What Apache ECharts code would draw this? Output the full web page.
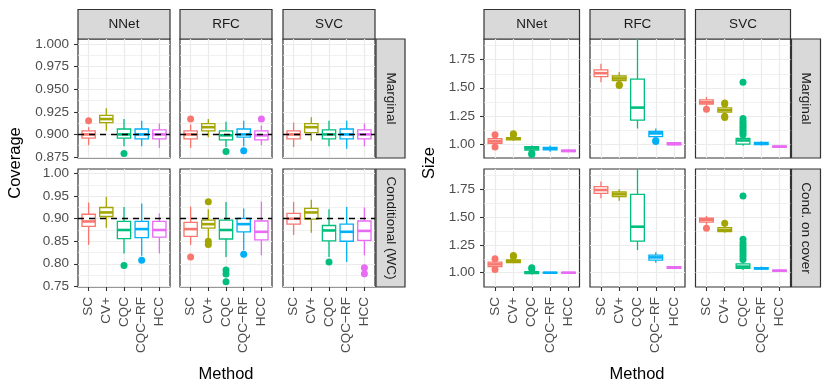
<!DOCTYPE html>
<html>
<head>
<meta charset="utf-8">
<script src="https://cdn.jsdelivr.net/npm/echarts@6/dist/echarts.min.js"></script>
<style>
html, body { margin: 0; padding: 0; background: #fff; }
#chart { width: 830px; height: 383px; }
</style>
</head>
<body>
<div id="chart"></div>
<script>
// categories and colours
var methods = ['SC', 'CV+', 'CQC', 'CQC\u2212RF', 'HCC'];
var models = ['NNet', 'RFC', 'SVC'];
var colors = ['#F8766D', '#A3A500', '#00BF7D', '#00B0F6', '#E76BF3'];
var xTicks = [1, 2, 3, 4, 5];

// tick labels
var covMargTicks = [0.875, 0.9, 0.925, 0.95, 0.975, 1.0];
var covMargMinor = [0.8875, 0.9125, 0.9375, 0.9625, 0.9875];
var covCondTicks = [0.75, 0.8, 0.85, 0.9, 0.95, 1.0];
var covCondMinor = [0.775, 0.825, 0.875, 0.925, 0.975];
var sizeTicks = [1.0, 1.25, 1.5, 1.75];
var sizeMinor = [1.125, 1.375, 1.625, 1.875];
var covTarget = 0.9;

// box stats per method: [lower whisker, q1, median, q3, upper whisker]
// outliers: [method no, value]
var covMargNNet = [[0.888, 0.896, 0.900, 0.904, 0.908], [0.904, 0.913, 0.917, 0.921, 0.929], [0.887, 0.896, 0.900, 0.906, 0.917], [0.887, 0.895, 0.900, 0.906, 0.915], [0.885, 0.895, 0.900, 0.905, 0.912]];
var covMargNNetOut = [[1, 0.915], [3, 0.879]];
var covMargRFC = [[0.885, 0.895, 0.900, 0.904, 0.911], [0.897, 0.904, 0.908, 0.912, 0.917], [0.886, 0.894, 0.899, 0.904, 0.914], [0.887, 0.897, 0.900, 0.906, 0.915], [0.888, 0.894, 0.899, 0.904, 0.910]];
var covMargRFCOut = [[1, 0.917], [3, 0.881], [4, 0.882], [5, 0.917]];
var covMargSVC = [[0.886, 0.895, 0.900, 0.904, 0.913], [0.893, 0.902, 0.908, 0.912, 0.919], [0.887, 0.895, 0.900, 0.905, 0.915], [0.884, 0.895, 0.900, 0.906, 0.915], [0.887, 0.895, 0.900, 0.905, 0.912]];
var covMargSVCOut = [];

var covCondNNet = [[0.842, 0.883, 0.894, 0.910, 0.936], [0.880, 0.905, 0.914, 0.925, 0.949], [0.823, 0.856, 0.875, 0.894, 0.926], [0.818, 0.858, 0.877, 0.894, 0.934], [0.823, 0.859, 0.875, 0.894, 0.912]];
var covCondNNetOut = [[3, 0.796], [4, 0.808]];
var covCondRFC = [[0.842, 0.861, 0.877, 0.892, 0.927], [0.856, 0.879, 0.888, 0.897, 0.921], [0.815, 0.855, 0.875, 0.897, 0.937], [0.830, 0.871, 0.888, 0.901, 0.923], [0.819, 0.853, 0.871, 0.895, 0.938]];
var covCondRFCOut = [[1, 0.815], [2, 0.9375], [2, 0.850], [2, 0.843], [3, 0.786], [3, 0.777], [3, 0.760], [4, 0.821]];
var covCondSVC = [[0.864, 0.888, 0.900, 0.912, 0.9375], [0.869, 0.899, 0.914, 0.923, 0.942], [0.815, 0.851, 0.874, 0.885, 0.921], [0.804, 0.850, 0.871, 0.888, 0.926], [0.819, 0.852, 0.873, 0.895, 0.925]];
var covCondSVCOut = [[3, 0.804], [5, 0.791], [5, 0.778]];

var sizeMargNNet = [[0.980, 1.005, 1.022, 1.045, 1.070], [1.027, 1.035, 1.045, 1.055, 1.070], [0.930, 0.945, 0.960, 0.975, 0.985], [0.930, 0.946, 0.957, 0.968, 0.985], [0.925, 0.930, 0.937, 0.944, 0.950]];
var sizeMargNNetOut = [[1, 1.080], [1, 0.972], [2, 1.080], [2, 1.090], [3, 0.915], [3, 0.905]];
var sizeMargRFC = [[1.550, 1.600, 1.630, 1.660, 1.714], [1.550, 1.565, 1.583, 1.605, 1.640], [1.137, 1.212, 1.323, 1.577, 1.935], [1.060, 1.065, 1.093, 1.110, 1.137], [0.985, 0.990, 1.000, 1.010, 1.015]];
var sizeMargRFCOut = [[2, 1.520], [2, 1.530], [4, 1.020], [4, 1.030]];
var sizeMargSVC = [[1.330, 1.355, 1.370, 1.392, 1.418], [1.255, 1.282, 1.300, 1.320, 1.340], [0.982, 0.998, 1.030, 1.048, 1.065], [0.985, 0.993, 1.003, 1.012, 1.024], [0.965, 0.970, 0.975, 0.980, 0.987]];
var sizeMargSVCOut = [[1, 1.308], [2, 1.355], [2, 1.365], [2, 1.245], [2, 1.235], [3, 1.550], [3, 1.225], [3, 1.200], [3, 1.180], [3, 1.160], [3, 1.140], [3, 1.120], [3, 1.100], [3, 1.080]];

var sizeCondNNet = [[1.035, 1.055, 1.075, 1.095, 1.120], [1.085, 1.092, 1.105, 1.115, 1.135], [0.985, 0.992, 1.000, 1.010, 1.025], [0.995, 0.997, 1.000, 1.003, 1.006], [0.995, 0.997, 1.000, 1.003, 1.006]];
var sizeCondNNetOut = [[1, 1.125], [1, 1.030], [2, 1.145], [2, 1.155], [3, 1.035], [3, 1.045]];
var sizeCondRFC = [[1.670, 1.714, 1.744, 1.774, 1.820], [1.648, 1.684, 1.705, 1.726, 1.750], [1.204, 1.285, 1.414, 1.705, 1.933], [1.090, 1.114, 1.138, 1.159, 1.183], [1.036, 1.040, 1.048, 1.055, 1.060]];
var sizeCondRFCOut = [];
var sizeCondSVC = [[1.430, 1.455, 1.475, 1.490, 1.510], [1.360, 1.370, 1.385, 1.405, 1.425], [1.024, 1.040, 1.055, 1.080, 1.100], [1.028, 1.033, 1.040, 1.046, 1.055], [1.010, 1.014, 1.018, 1.023, 1.028]];
var sizeCondSVCOut = [[1, 1.400], [2, 1.445], [3, 1.690], [3, 1.300], [3, 1.270], [3, 1.245], [3, 1.220], [3, 1.195], [3, 1.170], [3, 1.145], [3, 1.120]];

// layout
var font = 'Liberation Sans, Arial, sans-serif';
var cols = [[[78, 92], [180, 92], [283, 92]], [[484, 95.5], [590, 95], [695.5, 95]]];
var rows = [[39, 119], [169, 118]];
var stripRight = [376, 791.5];
var rowNames = [['Marginal', 'Conditional (WC)'], ['Marginal', 'Cond. on cover']];

var panels = [
	{ fig: 0, row: 0, col: 0, box: covMargNNet, out: covMargNNetOut, range: [0.8739, 1.0056], ticks: covMargTicks, minor: covMargMinor, digits: 3, target: true },
	{ fig: 0, row: 0, col: 1, box: covMargRFC, out: covMargRFCOut, range: [0.8739, 1.0056], ticks: covMargTicks, minor: covMargMinor, digits: 3, target: true },
	{ fig: 0, row: 0, col: 2, box: covMargSVC, out: covMargSVCOut, range: [0.8739, 1.0056], ticks: covMargTicks, minor: covMargMinor, digits: 3, target: true },
	{ fig: 0, row: 1, col: 0, box: covCondNNet, out: covCondNNetOut, range: [0.7484, 1.0105], ticks: covCondTicks, minor: covCondMinor, digits: 2, target: true },
	{ fig: 0, row: 1, col: 1, box: covCondRFC, out: covCondRFCOut, range: [0.7484, 1.0105], ticks: covCondTicks, minor: covCondMinor, digits: 2, target: true },
	{ fig: 0, row: 1, col: 2, box: covCondSVC, out: covCondSVCOut, range: [0.7484, 1.0105], ticks: covCondTicks, minor: covCondMinor, digits: 2, target: true },
	{ fig: 1, row: 0, col: 0, box: sizeMargNNet, out: sizeMargNNetOut, range: [0.8735, 1.935], ticks: sizeTicks, minor: sizeMinor, digits: 2 },
	{ fig: 1, row: 0, col: 1, box: sizeMargRFC, out: sizeMargRFCOut, range: [0.8735, 1.935], ticks: sizeTicks, minor: sizeMinor, digits: 2 },
	{ fig: 1, row: 0, col: 2, box: sizeMargSVC, out: sizeMargSVCOut, range: [0.8735, 1.935], ticks: sizeTicks, minor: sizeMinor, digits: 2 },
	{ fig: 1, row: 1, col: 0, box: sizeCondNNet, out: sizeCondNNetOut, range: [0.8715, 1.933], ticks: sizeTicks, minor: sizeMinor, digits: 2 },
	{ fig: 1, row: 1, col: 1, box: sizeCondRFC, out: sizeCondRFCOut, range: [0.8715, 1.933], ticks: sizeTicks, minor: sizeMinor, digits: 2 },
	{ fig: 1, row: 1, col: 2, box: sizeCondSVC, out: sizeCondSVCOut, range: [0.8715, 1.933], ticks: sizeTicks, minor: sizeMinor, digits: 2 }
];

function renderBox(params, api) {
	var x = api.value(0);
	var c = colors[x - 1];
	var half = api.size([0.75, 0])[0] / 2;
	var lo = api.coord([x, api.value(1)]);
	var q1 = api.coord([x, api.value(2)]);
	var md = api.coord([x, api.value(3)]);
	var q3 = api.coord([x, api.value(4)]);
	var hi = api.coord([x, api.value(5)]);
	var cx = md[0];
	return {
		type: 'group',
		children: [
			{ type: 'line', shape: { x1: cx, y1: hi[1], x2: cx, y2: q3[1] }, style: { stroke: c, lineWidth: 1.3 } },
			{ type: 'line', shape: { x1: cx, y1: q1[1], x2: cx, y2: lo[1] }, style: { stroke: c, lineWidth: 1.3 } },
			{ type: 'rect', shape: { x: cx - half, y: q3[1], width: 2 * half, height: q1[1] - q3[1] }, style: { fill: '#fff', stroke: c, lineWidth: 1.3 } },
			{ type: 'line', shape: { x1: cx - half, y1: md[1], x2: cx + half, y2: md[1] }, style: { stroke: c, lineWidth: 2.6 } }
		]
	};
}

var grids = [], xAxes = [], yAxes = [], series = [], graphics = [];

panels.forEach(function(p, g) {
	var c = cols[p.fig][p.col], r = rows[p.row];
	grids.push({
		left: c[0], top: r[0], width: c[1], height: r[1],
		show: true, backgroundColor: '#fff', borderColor: '#333333', borderWidth: 1.2
	});
	xAxes.push({
		gridIndex: g, type: 'value', min: 0.4, max: 5.6,
		axisLine: { show: false },
		axisTick: { show: p.row == 1, length: 4, customValues: xTicks, lineStyle: { color: '#333333', width: 1.1 } },
		axisLabel: {
			show: p.row == 1, customValues: xTicks, rotate: 90, margin: 10,
			color: '#4D4D4D', fontSize: 13.5, fontFamily: font,
			formatter: function(v) { return methods[Math.round(v) - 1]; }
		},
		splitLine: { show: true, lineStyle: { color: '#EBEBEB', width: 1.2 } }
	});
	yAxes.push({
		gridIndex: g, type: 'value', min: p.range[0], max: p.range[1],
		axisLine: { show: false },
		axisTick: { show: p.col == 0, length: 4, customValues: p.ticks, lineStyle: { color: '#333333', width: 1.1 } },
		axisLabel: {
			show: p.col == 0, customValues: p.ticks, margin: 9,
			color: '#4D4D4D', fontSize: 13.5, fontFamily: font,
			formatter: function(v) { return v.toFixed(p.digits); }
		},
		splitLine: { show: true, lineStyle: { color: '#EBEBEB', width: 1.2 } }
	});
	yAxes.push({
		gridIndex: g, type: 'value', min: p.range[0], max: p.range[1],
		axisLine: { show: false },
		axisTick: { show: false, customValues: p.minor },
		axisLabel: { show: false },
		splitLine: { show: true, lineStyle: { color: '#EBEBEB', width: 0.7 } }
	});
	var boxSeries = {
		type: 'custom', xAxisIndex: g, yAxisIndex: 2 * g, z: 2, clip: true,
		renderItem: renderBox,
		encode: { x: 0, y: [1, 2, 3, 4, 5] },
		data: p.box.map(function(b, i) { return [i + 1].concat(b); })
	};
	if (p.target) {
		boxSeries.markLine = {
			silent: true, symbol: 'none', label: { show: false }, z: 5,
			lineStyle: { color: '#000', type: [6, 5], width: 1.3 },
			data: [{ yAxis: covTarget }]
		};
	}
	series.push(boxSeries);
	series.push({
		type: 'scatter', xAxisIndex: g, yAxisIndex: 2 * g, z: 3,
		symbolSize: 7,
		itemStyle: { opacity: 1, color: function(d) { return colors[d.value[0] - 1]; } },
		data: p.out
	});

	// facet strips
	if (p.row == 0) {
		graphics.push({
			type: 'rect', shape: { x: c[0], y: 9.5, width: c[1], height: 29.5 },
			style: { fill: '#D9D9D9', stroke: '#333333', lineWidth: 1.2 }
		});
		graphics.push({
			type: 'text', x: c[0] + c[1] / 2, y: 24.5,
			style: { text: models[p.col], fill: '#1A1A1A', font: '13.5px ' + font, align: 'center', verticalAlign: 'middle' }
		});
	}
	if (p.col == 2) {
		var sx = stripRight[p.fig];
		graphics.push({
			type: 'rect', shape: { x: sx, y: r[0], width: 29, height: r[1] },
			style: { fill: '#D9D9D9', stroke: '#333333', lineWidth: 1.2 }
		});
		graphics.push({
			type: 'text', x: sx + 14.5, y: r[0] + r[1] / 2, rotation: -Math.PI / 2,
			style: { text: rowNames[p.fig][p.row], fill: '#1A1A1A', font: '13.5px ' + font, align: 'center', verticalAlign: 'middle' }
		});
	}
});

// axis titles
graphics.push({ type: 'text', x: 15, y: 163, rotation: Math.PI / 2, style: { text: 'Coverage', fill: '#000', font: '16.5px ' + font, align: 'center', verticalAlign: 'middle' } });
graphics.push({ type: 'text', x: 429, y: 163, rotation: Math.PI / 2, style: { text: 'Size', fill: '#000', font: '16.5px ' + font, align: 'center', verticalAlign: 'middle' } });
graphics.push({ type: 'text', x: 226, y: 374, style: { text: 'Method', fill: '#000', font: '16.5px ' + font, align: 'center', verticalAlign: 'middle' } });
graphics.push({ type: 'text', x: 637, y: 374, style: { text: 'Method', fill: '#000', font: '16.5px ' + font, align: 'center', verticalAlign: 'middle' } });

var chart = echarts.init(document.getElementById('chart'));
chart.setOption({
	animation: false,
	backgroundColor: '#fff',
	grid: grids,
	xAxis: xAxes,
	yAxis: yAxes,
	series: series,
	graphic: { elements: graphics }
});
</script>
</body>
</html>
